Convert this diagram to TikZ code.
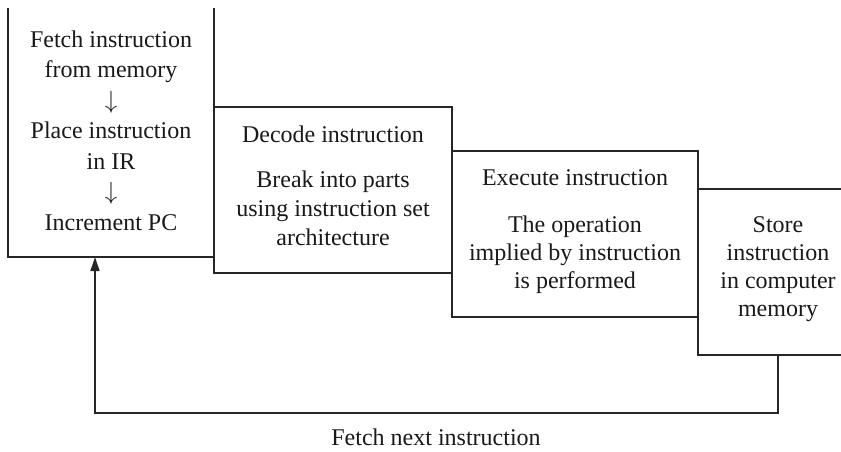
\documentclass[tikz,border=0pt]{standalone}
\usepackage{fontspec}
\setmainfont{Liberation Serif}
\usetikzlibrary{arrows.meta}
\begin{document}
\begin{tikzpicture}[x=1pt,y=-1pt,
  frame/.style={line width=1.3pt, draw=black!85},
  area/.style={inner sep=0pt, outer sep=0pt, minimum width=#1},
  stagebox/.style={frame, inner sep=0pt, outer sep=0pt},
  txt/.style={inner sep=0pt, align=center, font=\fontsize{24}{29}\selectfont, text=black!90},
]
\useasboundingbox (0,0) rectangle (841,451);

% stage areas
\node[area=206pt, minimum height=249pt] (b1) at (111,132.5) {};
\node[stagebox, minimum width=238pt, minimum height=166pt] (b2) at (333,190) {};
\node[stagebox, minimum width=246pt, minimum height=166pt] (b3) at (575,234) {};
\node[stagebox, minimum width=162pt, minimum height=166pt] (b4) at (779,272) {};
\draw[frame] (b1.north west) -- (b1.south west) -- (b1.south east) -- (b1.north east);

% texts
\node[txt, font=\fontsize{24}{30.5}\selectfont, anchor=north] (t1) at (111,30.6)
  {Fetch instruction\\from memory\\$\downarrow$\\Place instruction\\in IR\\$\downarrow$\\Increment PC};
\node[txt, anchor=base] (t2a) at (333,142) {Decode instruction};
\node[txt, anchor=north] (t2b) at (333,170.6) {Break into parts\\using instruction set\\architecture};
\node[txt, anchor=base] (t3a) at (575,185) {Execute instruction};
\node[txt, font=\fontsize{24}{28}\selectfont, anchor=north] (t3b) at (575,215.6) {The operation\\implied by instruction\\is performed};
\node[txt, font=\fontsize{24}{28}\selectfont, anchor=north] (t4) at (778,216.8) {Store\\instruction\\in computer\\memory};

% feedback connector
\coordinate (fr) at ([xshift=80pt]b4.south west);
\coordinate (fb) at (95,413);
\draw[frame, -{Triangle[length=14pt,width=9pt]}] (fr) |- (fb) -- (fb |- b1.south);
\node[txt, anchor=base] (lbl) at (436,445) {Fetch next instruction};
\end{tikzpicture}
\end{document}
